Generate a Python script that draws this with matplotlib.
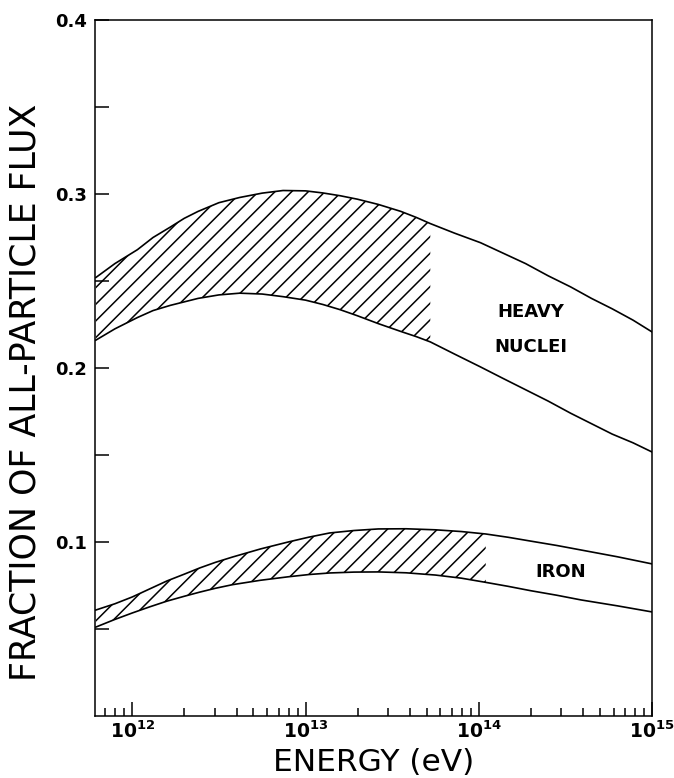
import numpy as np
import matplotlib
matplotlib.use("Agg")
import matplotlib.pyplot as plt

# energies in log10(eV), fractions
heavy_loge = [11.79, 11.9, 12.03, 12.12, 12.22, 12.3, 12.38, 12.5, 12.62, 12.75, 12.87, 13.0, 13.10, 13.2,
              13.30, 13.42, 13.55, 13.64, 13.72, 13.86, 14.01, 14.14, 14.27, 14.4, 14.53, 14.65, 14.77, 14.89, 15.0]
heavy_upper = [0.252, 0.260, 0.268, 0.275, 0.281, 0.286, 0.290, 0.295, 0.298, 0.3005, 0.302, 0.3018, 0.3006, 0.299,
               0.297, 0.294, 0.290, 0.2865, 0.283, 0.2775, 0.272, 0.266, 0.260, 0.253, 0.2466, 0.240, 0.234, 0.2275, 0.2207]
heavy_lower = [0.216, 0.2225, 0.229, 0.233, 0.236, 0.238, 0.240, 0.242, 0.243, 0.2425, 0.241, 0.239, 0.2365, 0.2335,
               0.230, 0.2255, 0.221, 0.218, 0.215, 0.208, 0.2006, 0.194, 0.1875, 0.181, 0.174, 0.168, 0.162, 0.157, 0.1517]
heavy_hatch_end = 13.72

iron_loge = [11.79, 11.9, 12.0, 12.1, 12.2, 12.3, 12.39, 12.48, 12.58, 12.74, 12.9, 13.02, 13.14, 13.28, 13.42,
             13.58, 13.75, 13.9, 14.04, 14.17, 14.3, 14.45, 14.59, 14.8, 15.0]
iron_upper = [0.0609, 0.0645, 0.0684, 0.0730, 0.0776, 0.0815, 0.0851, 0.0883, 0.0914, 0.0960, 0.1000, 0.1028, 0.1052, 0.1066, 0.1075,
              0.1076, 0.1070, 0.1060, 0.1046, 0.1027, 0.1005, 0.0980, 0.0954, 0.0915, 0.0874]
iron_lower = [0.0511, 0.0555, 0.0592, 0.0627, 0.0660, 0.0688, 0.0712, 0.0734, 0.0755, 0.0780, 0.0800, 0.0813, 0.0822, 0.0827, 0.0828,
              0.0823, 0.0810, 0.0792, 0.0768, 0.0745, 0.0720, 0.0694, 0.0667, 0.0633, 0.0598]
iron_hatch_end = 14.04

heavy_e = 10.0 ** np.array(heavy_loge)
iron_e = 10.0 ** np.array(iron_loge)

plt.rcParams["hatch.linewidth"] = 1.1
plt.rcParams["mathtext.default"] = "bf"
fig = plt.figure(figsize=(6.74, 7.78), dpi=100)
ax = fig.add_axes([0.141, 0.0797, 0.8265, 0.8946])

for e, lo, up, loge, end in [
    (heavy_e, heavy_lower, heavy_upper, heavy_loge, heavy_hatch_end),
    (iron_e, iron_lower, iron_upper, iron_loge, iron_hatch_end),
]:
    ax.plot(e, up, color="black", lw=1.2)
    ax.plot(e, lo, color="black", lw=1.2)
    mask = np.array(loge) <= end + 1e-9
    ax.fill_between(e[mask], np.array(lo)[mask], np.array(up)[mask],
                    facecolor="none", edgecolor="black", linewidth=0, hatch="//")

ax.text(2.0e14, 0.2322, "HEAVY", ha="center", va="center", fontsize=13, fontweight="bold")
ax.text(2.0e14, 0.2121, "NUCLEI", ha="center", va="center", fontsize=13, fontweight="bold")
ax.text(2.98e14, 0.0828, "IRON", ha="center", va="center", fontsize=13, fontweight="bold")

ax.set_xscale("log")
ax.set_xlim(6.1e11, 1e15)
ax.set_ylim(0, 0.4)

yt = [0.05, 0.1, 0.15, 0.2, 0.25, 0.3, 0.35, 0.4]
ax.set_yticks(yt)
ax.set_yticklabels(["", "0.1", "", "0.2", "", "0.3", "", "0.4"], fontweight="bold")
ax.set_xticks([1e12, 1e13, 1e14, 1e15])
ax.set_xticklabels([r"$10^{12}$", r"$10^{13}$", r"$10^{14}$", r"$10^{15}$"])

ax.tick_params(axis="y", direction="in", length=10, width=1.1, labelsize=13, pad=6)
ax.tick_params(axis="x", which="major", direction="in", length=10, width=1.1, labelsize=13.5, pad=3)
ax.tick_params(axis="x", which="minor", direction="in", length=5.5, width=1.1)
for s in ax.spines.values():
    s.set_linewidth(1.1)

ax.set_xlabel("ENERGY (eV)", fontsize=22.5)
ax.xaxis.set_label_coords(0.5, -0.046)
ax.set_ylabel("FRACTION OF ALL-PARTICLE FLUX", fontsize=25)
ax.yaxis.set_label_coords(-0.095, 0.465)

fig.savefig("out.png", dpi=100, facecolor="white")
